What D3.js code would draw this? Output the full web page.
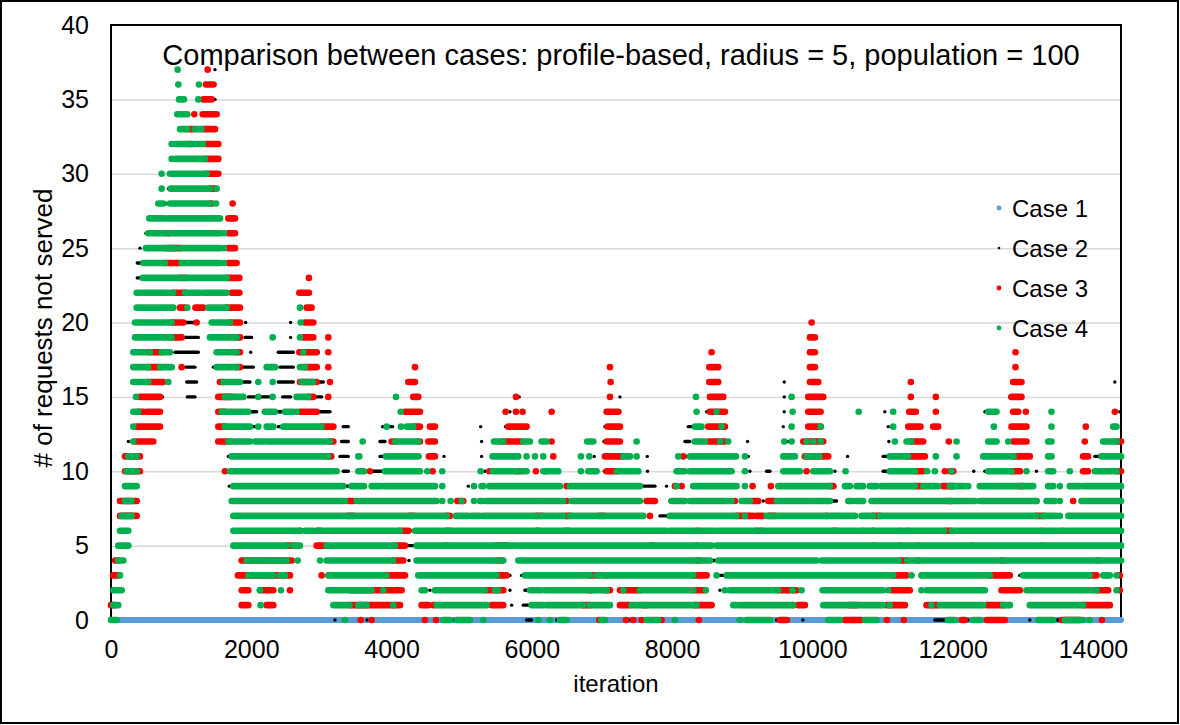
<!DOCTYPE html>
<html>
<head>
<meta charset="utf-8">
<script src="https://cdn.jsdelivr.net/npm/d3@7"></script>
<style>
	body { margin: 0; background: #fff; }
	svg { display: block; font-family: Arial, "Liberation Sans", sans-serif; }
</style>
</head>
<body>
<svg id="chart" width="1180" height="725"></svg>
<script>
// tick labels
const xTicks = [0, 2000, 4000, 6000, 8000, 10000, 12000, 14000]
const yTicks = [0, 5, 10, 15, 20, 25, 30, 35, 40]

const seriesNames = ['Case 1', 'Case 2', 'Case 3', 'Case 4']

// each row: [requests not served, ...runs of iterations] ; a run is [from, to] or [single]
const case1Runs = [
	[0, [0, 14400]],
]

const case2Runs = [
	[37, [1483]], [36, [1483]], [35, [1483]], [34, [1506]],
	[30, [817]], [29, [817]], [28, [794]], [27, [532], [794]], [26, [499]], [25, [413]],
	[24, [375, 451]], [23, [375, 440]], [22, [1126]], [21, [1060, 1080]],
	[20, [1031, 1197], [1920], [2561]],
	[19, [1055, 1245], [1910, 2005], [2561]],
	[18, [912, 1245], [1991], [2385, 2599], [2955]],
	[17, [1069, 1197], [1460], [1886, 2029], [2409, 2599], [2955]],
	[16, [1079, 1221], [1886, 1982], [2385, 2599], [2955, 3027], [9599], [14312]],
	[15, [736], [1088, 1197], [1958, 2267], [2447, 2561], [2932, 3003], [5820], [7256], [9599], [12815]],
	[14, [675], [1958, 2076], [2172, 2219], [2385, 2547], [2599, 2694], [2980, 3122], [5688], [7256], [8492], [9599], [11033], [12459], [12839], [14383]],
	[13, [2005, 2053], [2385, 2433], [2599, 2694], [3311, 3383], [3873, 4015], [5270], [5626], [7042], [7256], [8230, 8280], [9585], [11081], [12839]],
	[12, [247], [1982, 2029], [2172, 2219], [2409], [3287, 3383], [3835, 3906], [5284], [6890], [7028], [8183, 8254], [9076], [9646], [11090]],
	[11, [1673, 1720], [3264, 3383], [3835, 3906], [4405], [4747], [5284], [6890], [7646], [8216], [9085], [10502], [11009, 11081], [12044], [14027, 14098]],
	[10, [3311, 3383], [3740, 3882], [5330], [7033], [7650], [8210, 8280], [9109], [9347, 9395], [10321], [11009, 11081], [12301], [12459], [13195], [14027]],
	[9, [1687], [3335, 3406], [5094], [5284], [7565, 7755], [7921], [10321]],
	[8, [3455], [7565], [7969], [8230], [9300], [10297, 10345]],
	[7, [7826, 7921], [10630]],
	[6, [4272], [7898], [8611, 8634]],
	[5, [4215, 4310], [7969, 8064], [8587, 8634]],
	[4, [24], [4248], [5593], [8563, 8611], [10107]],
	[3, [24], [5688], [5854], [8682, 8729], [12957]],
	[2, [24], [4144], [4547], [5688], [5902, 5997], [8682], [12981]],
	[1, [5712], [5878, 5997], [7422], [11770], [12815]],
	[0, [3193], [3650], [4718, 4946], [5925, 5997], [6353, 6401], [7399], [8943], [9490], [9864], [11746, 12007], [12217], [13100], [13485, 13599]],
]

const case3Runs = [
	[37, [1378]],
	[36, [1354, 1459]],
	[35, [1316, 1435]],
	[34, [1188], [1307, 1506]],
	[33, [1117, 1173], [1316, 1483]],
	[32, [1110, 1140], [1340, 1530]],
	[31, [1340, 1530]],
	[30, [1364, 1530]],
	[29, [1411, 1480]],
	[28, [1411, 1440], [1734]],
	[27, [1673, 1768]],
	[26, [793, 830], [1673, 1768]],
	[25, [780, 990], [1673, 1768]],
	[24, [770, 983], [1673, 1791]],
	[23, [983, 1055], [1649, 1830], [2822]],
	[22, [888, 1055], [1720, 1830], [2685, 2822]],
	[21, [983, 1055], [1204, 1316], [1649, 1839], [2789, 2860]],
	[20, [865, 1031], [1221], [1696, 1839], [2766, 2884], [9989]],
	[19, [865, 1007], [1791, 1839], [2742, 2884], [3098], [9965, 10036]],
	[18, [556, 722], [1791, 1839], [2685, 2932], [3098], [8563], [9965, 10036], [12896]],
	[17, [532, 700], [1007], [1791, 1839], [2766, 2932], [3098], [4334], [7114], [8530, 8658], [9965, 10036], [12896]],
	[16, [532, 746], [1553, 1601], [2694, 2932], [3122], [4239, 4334], [7123], [8530, 8658], [9965, 10084], [11404], [12862, 12981]],
	[15, [413, 698], [1530, 1720], [2813, 2884], [3098], [4310, 4381], [5774], [7114], [8539, 8729], [9941, 10155], [11404], [11760], [12839, 12981]],
	[14, [390, 460], [508, 698], [1530, 1625], [2694, 2932], [4191, 4405], [5626], [5774], [5868], [6282], [7066, 7232], [8539, 8753], [9941, 10117], [11380, 11475], [11760], [12862, 12935], [13043], [14312]],
	[13, [366, 698], [1530, 1625], [3003, 3170], [4310, 4405], [4547, 4619], [5664, 5925], [7080, 7256], [8515, 8753], [9941, 10117], [11366, 11541], [11722, 11793], [12839, 13053], [13898]],
	[12, [342, 603], [1530, 1673], [3122, 3170], [4001, 4048], [4381, 4405], [4524, 4619], [5593, 5854], [6282], [7066, 7256], [8515, 8753], [9870, 10155], [11410, 11579], [11945], [12862, 13053], [13884], [14336, 14400]],
	[11, [200, 413], [3098, 3140], [4533, 4619], [6306], [7042, 7280], [8159], [9893, 10226], [11366, 11603], [12870, 13100], [13860, 13930]],
	[10, [200, 413], [1625], [3692], [4585], [5394], [5783, 5830], [6058], [6187], [7066, 7209], [9917], [11461, 11579], [11888], [11960, 12010], [12840, 12960], [13860, 13930], [14336, 14400]],
	[9, [6496], [8040], [8135], [9147], [9409], [10250, 10297], [11460, 11560], [11865, 12007], [12957, 13005]],
	[8, [128, 366], [3383, 3455], [4937, 5023], [6092], [6496], [7636, 7755], [8895], [9133, 9228], [9371, 9466], [11912, 11983], [13195], [13718]],
	[7, [128, 366], [3383, 3455], [4262, 4310], [4785, 4830], [6068, 6139], [6472, 6543], [6971, 7019], [7684], [8919, 9157], [9205, 9300], [9395, 9466], [10200], [10867, 10962], [13195, 13290]],
	[6, [2694], [2932, 2980], [4120, 4240], [4785, 4833], [6068, 6092], [6472, 6520], [8349, 8397], [9200, 9276], [10297, 10345], [10724], [10867], [11247], [11366], [11888, 11983], [13267], [13575]],
	[5, [2504, 2599], [2932, 3051], [4048, 4191], [4785], [5498, 5640], [7708, 7731], [8349], [10867], [11247], [11508], [12268], [13267]],
	[4, [60, 110], [1863, 2575], [4025, 4167], [5500, 5570], [8349, 8397], [11247, 11342], [11508], [12696, 12720], [14075]],
	[3, [30, 110], [1810, 2551], [3003], [3930, 4191], [5498, 5640], [6828, 6923], [7066], [8302, 8492], [11152, 11342], [12530, 12815], [13955, 14050], [14383]],
	[2, [1863, 1958], [2124, 2314], [2551], [3407, 4144], [5331, 5593], [6805, 6850], [7043, 7114], [7256, 7541], [8302, 8468], [9514, 9775], [11128, 11389], [12696, 12957], [14050, 14217], [14383]],
	[1, [0, 60], [1863, 1958], [2219, 2314], [3407, 4120], [4429, 4524], [4595, 4619], [5427, 5593], [6733, 6828], [7256, 7399], [7589, 7636], [8325, 8563], [9727], [9798, 9893], [10534, 10629], [11057, 11318], [11627, 11793], [12482, 12720], [13860, 14241]],
	[0, [3559], [3716], [4476], [4633], [6961], [7342], [7446], [7565], [7850], [8382], [9536, 9636], [10463, 10700], [11062], [11304], [12131, 12174], [12487, 12744], [13557, 13813], [14127]],
]

const case4Runs = [
	[37, [950]],
	[36, [960], [1254]],
	[35, [970, 1040], [1245]],
	[34, [945, 1088]],
	[33, [984, 1088], [1197, 1292]],
	[32, [865], [926, 1110], [1140, 1316]],
	[31, [865], [926, 1340]],
	[30, [722], [841, 1364]],
	[29, [722], [850, 1411], [1506]],
	[28, [675, 746], [841, 1411], [1497]],
	[27, [546, 770], [817, 1554]],
	[26, [532, 770], [830, 1554], [1611]],
	[25, [499, 770], [830, 900], [983, 1554], [1611]],
	[24, [461, 770], [1007, 1554], [1611]],
	[23, [451, 983], [1055, 1649]],
	[22, [366, 888], [1055, 1269], [1316, 1649]],
	[21, [366, 888], [1088], [1387, 1649], [2694]],
	[20, [342, 865], [1435, 1696], [2704]],
	[19, [342, 865], [1411, 1791], [2305], [2694]],
	[18, [318, 556], [722, 841], [1506, 1791], [2742]],
	[17, [318, 532], [700, 865], [1506, 1791], [2219, 2338], [2694, 2766]],
	[16, [318, 532], [817], [1601, 1839], [2100], [2305], [2718, 2884]],
	[15, [356], [1625, 1886], [2100], [2305], [2647, 2813], [4063], [8340], [9704]],
	[14, [318, 390], [1578, 1958], [2195, 2338], [2480, 2599], [2647], [4130], [8349], [8634], [9718], [10660], [11152], [12506, 12625], [13409]],
	[13, [318], [1625, 1982], [2100], [2219, 2314], [2456, 3003], [3930], [4134], [4215, 4310], [8325, 8420], [8705], [9704], [10117], [11152], [12587], [13409], [14288, 14336]],
	[12, [318], [1673, 1982], [2053, 2172], [2219, 3122], [3588], [4048, 4381], [5460, 5593], [5878, 5973], [6139, 6210], [6790, 6876], [7494], [8325, 8468], [8686], [8800], [9599], [9704], [9917], [10012], [10117], [11176], [11342, 11410], [12055], [12506, 12625], [12791], [13361, 13409], [14145, 14336]],
	[11, [247, 366], [1720, 3098], [3526, 3540], [3920, 4381], [5441, 5807], [5925], [6044], [6163], [6700], [6819], [7304, 7399], [7494], [8088], [8254, 8872], [8910], [9038], [9585, 9751], [9917, 10100], [11104, 11366], [11760], [12055], [12435, 12767], [12815, 12870], [13361, 13409], [14122, 14400]],
	[10, [223, 366], [1696, 3170], [3217], [3526, 3607], [3906, 4405], [4509], [4723], [5270], [5441, 5783], [5854, 5925], [6163, 6377], [6700], [6805, 6923], [7209, 7518], [8064, 8183], [8254, 8848], [9038], [9585, 9822], [10012, 10250], [10473], [11104, 11461], [11636], [11746], [11983], [12506, 12840], [13053], [13361, 13433], [13670], [14027, 14336]],
	[9, [199, 366], [1744, 3311], [3430, 3607], [3716, 3835], [3882, 4619], [4723], [5175], [5284, 5308], [5394, 6401], [6543, 7541], [8064], [8302, 8919], [9038], [9514, 10250], [10464, 10535], [10629, 10724], [10819, 10914], [10985, 11460], [11579, 11793], [11960, 12174], [12221], [12387, 12957], [13005, 13148], [13361, 13433], [13528], [13670, 13810], [13860, 14400]],
	[8, [199, 294], [1720, 3335], [3502, 4642], [4723], [4842], [4999], [5175], [5260, 5308], [5355, 6068], [6116, 6448], [6567, 7541], [7992, 8183], [8254, 8848], [8991, 9109], [9490, 9989], [10012, 10250], [10511, 10582], [10629, 10724], [10843, 11912], [11960, 12316], [12387, 13195], [13338, 13457], [13528], [13836, 14400]],
	[7, [152, 294], [1744, 3383], [3430, 4262], [4310, 4785], [4918, 5094], [5141, 5260], [5308, 6068], [6139, 6448], [6543, 6971], [7019, 7589], [7969, 8919], [9038], [9347, 9395], [9466, 10273], [10297, 10606], [10700, 10867], [10962, 13195], [13290, 13480], [13528], [13650, 13760], [13789, 14400]],
	[6, [128, 247], [1744, 2694], [2765, 2884], [2955, 4120], [4334, 4785], [4833, 6068], [6092, 6472], [6520, 7921], [7969, 8349], [8420, 8587], [8634, 9200], [9276, 10297], [10345, 10700], [10750, 10850], [10880, 11220], [11270, 11350], [11390, 11880], [11990, 13240], [13290, 13550], [13600, 14400]],
	[5, [104, 247], [1744, 1886], [1910, 2504], [2599, 2694], [3074, 4048], [4357, 4785], [4800, 5498], [5545, 5640], [5664, 5783], [5830, 7708], [7731, 8349], [8397, 8563], [8634, 10850], [10880, 11230], [11270, 11490], [11525, 12250], [12285, 13250], [13290, 14400]],
	[4, [104, 176], [1934, 2267], [2314, 2504], [2661], [2980], [3074, 4025], [4357, 5500], [5560, 5593], [5807, 8349], [8397, 8540], [8658, 10060], [10131, 11230], [11350, 11490], [11525, 12680], [12735, 14060], [14100, 14400]],
	[3, [128], [1958, 2053], [2076, 2314], [2409, 2480], [3098, 3930], [4381, 5498], [5902, 6828], [6923, 7185], [7209, 8302], [8634], [8777, 11152], [11413], [11555, 12530], [13005, 13955], [14145, 14240], [14336]],
	[2, [33, 152], [2124], [2423], [3098, 3716], [3882], [4429, 4476], [4619, 5331], [5474, 5520], [5973, 6139], [6187, 6805], [6850, 7066], [7304], [7541, 8302], [8482], [8753], [8824, 9514], [9718], [9846], [10145, 11009], [11081], [11555], [11627, 12459], [13053, 14050], [14336]],
	[1, [33, 104], [2133], [3170, 3400], [3526, 3645], [4025], [4642, 5355], [5997, 6163], [6211, 6733], [6828, 7114], [7422, 7589], [7636, 8349], [8872, 8919], [8967, 9727], [10155, 11009], [11104], [11698], [11817, 12435], [12720, 12815], [13100, 13860]],
	[0, [0, 80], [3335], [4738, 4833], [4928, 5118], [5308], [6092], [6258], [6401, 6496], [6990, 7042], [7636, 7803], [8040], [8967], [9062, 9395], [10226, 10392], [10748, 10914], [11931, 12030], [12292, 12387], [13219, 13433], [13599, 13860], [13955]],
]

let config = {
	svg: d3.select('#chart'),
	left: 111,
	right: 1121,
	top: 25,
	bottom: 620,
	tickFont: 25,
	font: 24,
	colors: ['#5b9bd5', '#000000', '#ff0000', '#00b050'],
	sizes: [6, 3.4, 6.6, 6.6],
	legendR: [2.4, 1.3, 2.4, 2.4],
	xScale: undefined,
	yScale: undefined,
}

function createScales() {
	config.xScale = d3.scaleLinear()
		.domain([0, 14400])
		.range([config.left, config.right])
	config.yScale = d3.scaleLinear()
		.domain([0, 40])
		.range([config.bottom, config.top])
}

function drawGrid() {
	let gridG = config.svg.append('g')
		.attr('transform', `translate(${config.left}, 0)`)
		.call(d3.axisLeft(config.yScale)
			.tickValues(yTicks.slice(1, -1))
			.tickSize(-(config.right - config.left))
			.tickFormat(''))
	gridG.select('.domain').remove()
	gridG.selectAll('line')
		.attr('stroke', '#d9d9d9')
		.attr('stroke-width', 1.5)
}

function drawAxis() {
	let leftAxisG = config.svg.append('g')
		.attr('transform', `translate(${config.left}, 0)`)
		.call(d3.axisLeft(config.yScale)
			.tickValues(yTicks)
			.tickSize(0)
			.tickPadding(22))
	let bottomAxisG = config.svg.append('g')
		.attr('transform', `translate(0, ${config.bottom})`)
		.call(d3.axisBottom(config.xScale)
			.tickValues(xTicks)
			.tickSize(0)
			.tickPadding(20)
			.tickFormat(d3.format('d')))

	for (let g of [leftAxisG, bottomAxisG]) {
		g.select('.domain').remove()
		g.selectAll('text')
			.attr('font-size', config.tickFont)
			.attr('font-family', 'Arial, "Liberation Sans", sans-serif')
			.attr('fill', '#000')
	}
}

function flattenRuns(rows) {
	return rows.flatMap(([level, ...runs]) =>
		runs.map(r => ({ level, from: r[0], to: r.length > 1 ? r[1] : r[0] })))
}

function drawSeries(rows, i) {
	let runs = flattenRuns(rows)
	let g = config.svg.append('g').attr('class', 'series-' + (i + 1))
	let color = config.colors[i]
	let size = config.sizes[i]

	g.selectAll('line')
		.data(runs.filter(d => d.to > d.from))
		.enter()
		.append('line')
		.attr('x1', d => config.xScale(d.from))
		.attr('x2', d => config.xScale(d.to))
		.attr('y1', d => config.yScale(d.level))
		.attr('y2', d => config.yScale(d.level))
		.attr('stroke', color)
		.attr('stroke-width', size)
		.attr('stroke-linecap', 'round')

	g.selectAll('circle')
		.data(runs.filter(d => d.to === d.from))
		.enter()
		.append('circle')
		.attr('cx', d => config.xScale(d.from))
		.attr('cy', d => config.yScale(d.level))
		.attr('r', size / 2)
		.attr('fill', color)
}

// plot area border sits under the markers, like the spreadsheet draws it
function drawFrame() {
	config.svg.append('rect')
		.attr('x', config.left)
		.attr('y', config.top)
		.attr('width', config.right - config.left)
		.attr('height', config.bottom - config.top)
		.attr('fill', 'none')
		.attr('stroke', '#000')
		.attr('stroke-width', 2)

	config.svg.append('rect')
		.attr('x', 1)
		.attr('y', 1)
		.attr('width', 1177)
		.attr('height', 722)
		.attr('fill', 'none')
		.attr('stroke', '#000')
		.attr('stroke-width', 2)
}

function drawLabels() {
	config.svg.append('text')
		.attr('x', 621)
		.attr('y', 65)
		.attr('text-anchor', 'middle')
		.attr('font-size', 29)
		.text('Comparison between cases: profile-based, radius = 5, population = 100')

	config.svg.append('text')
		.attr('x', 616)
		.attr('y', 692)
		.attr('text-anchor', 'middle')
		.attr('font-size', config.font)
		.text('iteration')

	config.svg.append('text')
		.attr('transform', 'translate(52, 328) rotate(-90)')
		.attr('text-anchor', 'middle')
		.attr('font-size', 26)
		.text('# of requests not served')
}

function drawLegend() {
	let items = config.svg.append('g')
		.selectAll('g')
		.data(seriesNames)
		.enter()
		.append('g')
		.attr('transform', (d, i) => `translate(999, ${208 + i * 40})`)

	items.append('circle')
		.attr('r', (d, i) => config.legendR[i])
		.attr('fill', (d, i) => config.colors[i])

	items.append('text')
		.attr('x', 13)
		.attr('y', 9)
		.attr('font-size', config.font)
		.text(d => d)
}

function app() {
	createScales()
	drawGrid()
	drawFrame()
	drawAxis()
	;[case1Runs, case2Runs, case3Runs, case4Runs].forEach(drawSeries)
	drawLabels()
	drawLegend()
}

app()
</script>
</body>
</html>
